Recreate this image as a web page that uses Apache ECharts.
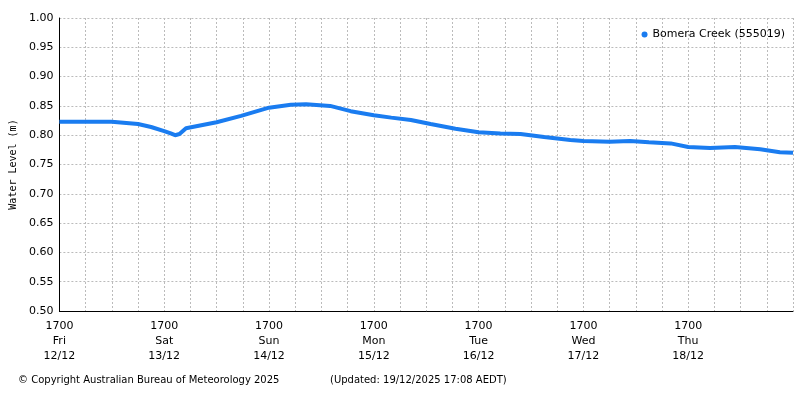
<!DOCTYPE html>
<html>
<head>
<meta charset="utf-8">
<script src="https://cdn.jsdelivr.net/npm/echarts@6/dist/echarts.min.js"></script>
<style>body{margin:0}#c{width:800px;height:400px}</style>
</head>
<body>
<div id="c"></div>
<script>
// hours after 1700 Fri 12/12
const hours = [0, 6, 12, 18, 21, 24, 25.5, 26.5, 27.5, 29, 32.5, 36, 41.6, 48, 53, 56.5, 62, 66.7, 72, 76, 80.5, 85, 90.7, 96, 101, 105.6, 111, 117, 120, 126, 130.7, 135, 140, 144, 149, 154.7, 160.5, 165, 168];
const levels = [0.823, 0.823, 0.823, 0.819, 0.814, 0.807, 0.803, 0.800, 0.802, 0.812, 0.817, 0.822, 0.833, 0.847, 0.852, 0.853, 0.850, 0.841, 0.834, 0.830, 0.826, 0.819, 0.811, 0.805, 0.803, 0.802, 0.797, 0.792, 0.790, 0.789, 0.790, 0.788, 0.786, 0.780, 0.778, 0.780, 0.776, 0.771, 0.770];
const dayLabels = ["1700\nFri\n12/12", "1700\nSat\n13/12", "1700\nSun\n14/12", "1700\nMon\n15/12", "1700\nTue\n16/12", "1700\nWed\n17/12", "1700\nThu\n18/12"];

const chart = echarts.init(document.getElementById("c"));
const font = "DejaVu Sans";
chart.setOption({
  animation: false,
  textStyle: { fontFamily: font },
  grid: { left: 58, right: 7, top: 18, bottom: 89 },
  legend: {
    right: 10, top: 24, icon: "circle", itemWidth: 6, itemHeight: 6, itemGap: 4,
    textStyle: { fontSize: 11, color: "#000", fontFamily: font },
    data: ["Bomera Creek (555019)"]
  },
  xAxis: {
    type: "value", min: 0, max: 168, interval: 6,
    axisLine: { lineStyle: { color: "#000" } },
    axisTick: { show: false },
    splitLine: { lineStyle: { color: "#bbb", type: [2, 2] } },
    axisLabel: {
      color: "#000", fontSize: 11, lineHeight: 15,
      formatter: v => (v % 24 === 0 && v < 168) ? dayLabels[v / 24] : ""
    }
  },
  yAxis: {
    type: "value", min: 0.5, max: 1.0, interval: 0.05,
    name: "Water Level (m)", nameLocation: "middle", nameGap: 40,
    nameTextStyle: { fontFamily: "DejaVu Sans Mono", fontSize: 10, color: "#000" },
    axisLine: { show: true, lineStyle: { color: "#000" } },
    axisTick: { show: false },
    splitLine: { lineStyle: { color: "#bbb", type: [2, 2] } },
    axisLabel: { color: "#000", fontSize: 11, margin: 6, formatter: v => v.toFixed(2) }
  },
  series: [{
    name: "Bomera Creek (555019)", type: "line",
    showSymbol: false, symbol: "circle",
    itemStyle: { color: "#1a7cf0" },
    lineStyle: { width: 4, color: "#1a7cf0" },
    data: hours.map((h, i) => [h, levels[i]])
  }],
  graphic: [
    { type: "text", left: 18, top: 375, style: { text: "© Copyright Australian Bureau of Meteorology 2025", font: "10px DejaVu Sans", fill: "#000" } },
    { type: "text", left: 330, top: 375, style: { text: "(Updated: 19/12/2025 17:08 AEDT)", font: "10px DejaVu Sans", fill: "#000" } }
  ]
});
</script>
</body>
</html>
